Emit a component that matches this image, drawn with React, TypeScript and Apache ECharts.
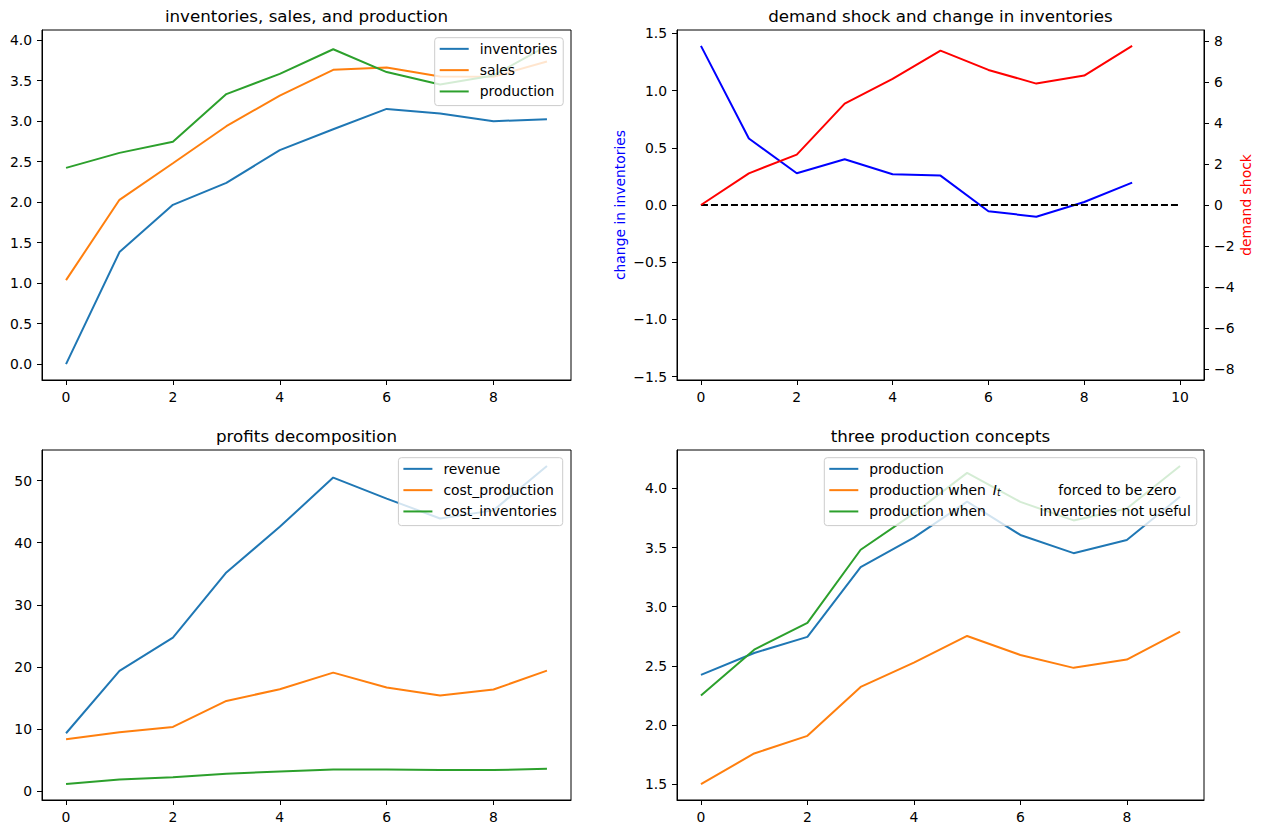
import React, { useEffect, useRef } from "react";
import * as echarts from "echarts";

// ---------------- data ----------------
const periods = [0, 1, 2, 3, 4, 5, 6, 7, 8, 9];

const inventories = [0, 1.383, 1.967, 2.239, 2.642, 2.901, 3.152, 3.095, 3.0, 3.025];
const sales = [1.037, 2.029, 2.481, 2.938, 3.317, 3.634, 3.663, 3.551, 3.55, 3.737];
const production = [2.424, 2.609, 2.745, 3.335, 3.584, 3.889, 3.607, 3.453, 3.565, 3.93];

const changeInInventories = [1.39, 0.581, 0.277, 0.4, 0.268, 0.257, -0.055, -0.102, 0.026, 0.196];
const demandShock = [0, 1.548, 2.46, 4.953, 6.159, 7.544, 6.599, 5.931, 6.322, 7.772];
const zeroLineX = [0, 10];
const zeroLineY = [0, 0];

const revenue = [9.32, 19.35, 24.7, 35.2, 42.55, 50.48, 47.1, 43.9, 45.2, 52.36];
const costProduction = [8.36, 9.49, 10.34, 14.52, 16.4, 19.08, 16.67, 15.38, 16.35, 19.4];
const costInventories = [1.13, 1.88, 2.25, 2.79, 3.16, 3.48, 3.48, 3.38, 3.38, 3.59];

const productionZeroInv = [1.5, 1.759, 1.908, 2.322, 2.528, 2.753, 2.592, 2.483, 2.553, 2.789];
const productionNoInv = [2.249, 2.637, 2.863, 3.482, 3.789, 4.132, 3.887, 3.73, 3.831, 4.191];

// tick values
const xTicks9 = [0, 2, 4, 6, 8];
const xTicks10 = [0, 2, 4, 6, 8, 10];
const yTicksInv = [0, 0.5, 1.0, 1.5, 2.0, 2.5, 3.0, 3.5, 4.0];
const yTicksChange = [-1.5, -1.0, -0.5, 0, 0.5, 1.0, 1.5];
const yTicksShock = [-8, -6, -4, -2, 0, 2, 4, 6, 8];
const yTicksProfit = [0, 10, 20, 30, 40, 50];
const yTicksProd = [1.5, 2.0, 2.5, 3.0, 3.5, 4.0];

// titles / names
const titles = [
  "inventories, sales, and production",
  "demand shock and change in inventories",
  "profits decomposition",
  "three production concepts",
];
const P4_PROD = "production (concepts)";
const P4_ZERO = "production when I_t forced to be zero";
const P4_NOINV = "production when inventories not useful";

// ---------------- helpers ----------------
const FONT = "'DejaVu Sans', sans-serif";
const C0 = "#1f77b4";
const C1 = "#ff7f0e";
const C2 = "#2ca02c";

function padRange(...arrs: number[][]): [number, number] {
  const all = ([] as number[]).concat(...arrs);
  const lo = Math.min(...all);
  const hi = Math.max(...all);
  const m = (hi - lo) * 0.05;
  return [lo - m, hi + m];
}
function symRange(arr: number[], f = 1.1): [number, number] {
  const m = Math.max(...arr.map((v) => Math.abs(v))) * f;
  return [-m, m];
}
const fmt = (d: number) => (v: number) => v.toFixed(d).replace("-", "\u2212");

const axisLineStyle = { color: "#000", width: 1 };
function makeAxis(kind: "x" | "y", gridIndex: number, range: [number, number], ticks: number[], dec: number, extra: any = {}) {
  return {
    type: "value",
    gridIndex,
    min: range[0],
    max: range[1],
    axisLine: { show: true, onZero: false, lineStyle: axisLineStyle },
    axisTick: { show: true, length: 5, lineStyle: axisLineStyle, customValues: ticks },
    splitLine: { show: false },
    axisLabel: {
      color: "#000",
      fontSize: 13.9,
      fontFamily: FONT,
      margin: 10,
      customValues: ticks,
      formatter: fmt(dec),
    },
    ...extra,
  };
}

function line(name: string, ys: number[], color: string, xi: number, yi: number, xs: number[] = periods, extra: any = {}) {
  return {
    type: "line",
    name,
    data: xs.map((x, i) => [x, ys[i]]),
    xAxisIndex: xi,
    yAxisIndex: yi,
    showSymbol: false,
    symbol: "none",
    color,
    lineStyle: { color, width: 2 },
    emphasis: { disabled: true },
    silent: true,
    ...extra,
  };
}

const legendCommon = {
  orient: "vertical",
  align: "left",
  padding: [4, 6, 7, 5],
  itemGap: 7,
  itemWidth: 29,
  itemHeight: 2,
  icon: "rect",
  backgroundColor: "rgba(255,255,255,0.8)",
  borderColor: "#cccccc",
  borderWidth: 1,
  borderRadius: 3,
  selectedMode: false,
  textStyle: {
    fontSize: 13.9,
    fontFamily: FONT,
    color: "#000",
    lineHeight: 14.3,
    padding: [0, 0, 0, 6],
    rich: {
      n: { fontSize: 13.9, fontFamily: FONT, color: "#000", lineHeight: 14.3 },
      it: { fontSize: 13.9, fontFamily: FONT, fontStyle: "italic", color: "#000", lineHeight: 14.3 },
      sub: { fontSize: 9.7, fontFamily: FONT, fontStyle: "italic", color: "#000", lineHeight: 9, verticalAlign: "bottom" },
      g1: { width: 7, lineHeight: 14.3 },
      g2: { width: 57.6, lineHeight: 14.3 },
      g3: { width: 53.7, lineHeight: 14.3 },
    },
  },
};

const titleStyle = { fontSize: 16.7, fontWeight: "normal", fontFamily: FONT, color: "#000", lineHeight: 20 };

// layout
const GL = { left: 42, width: 529 };
const GR = { left: 677, width: 527 };
const GT = { top: 30, height: 350 };
const GB = { top: 450, height: 350 };

function buildOption() {
  const xr9 = padRange(periods);
  const xr10 = padRange(zeroLineX);
  const grids = [
    { ...GL, ...GT },
    { ...GR, ...GT },
    { ...GL, ...GB },
    { ...GR, ...GB },
  ].map((g) => ({ ...g, show: true, borderColor: "#000", borderWidth: 1, backgroundColor: "transparent", containLabel: false }));

  return {
    animation: false,
    backgroundColor: "#fff",
    textStyle: { fontFamily: FONT },
    title: [
      { text: titles[0], left: GL.left + GL.width / 2, top: 5.9 },
      { text: titles[1], left: GR.left + GR.width / 2, top: 5.9 },
      { text: titles[2], left: GL.left + GL.width / 2, top: 425.9 },
      { text: titles[3], left: GR.left + GR.width / 2, top: 425.9 },
    ].map((t) => ({ ...t, textAlign: "center", padding: 0, textStyle: titleStyle })),
    grid: grids,
    xAxis: [
      makeAxis("x", 0, xr9, xTicks9, 0),
      makeAxis("x", 1, xr10, xTicks10, 0),
      makeAxis("x", 2, xr9, xTicks9, 0),
      makeAxis("x", 3, xr9, xTicks9, 0),
    ],
    yAxis: [
      makeAxis("y", 0, padRange(inventories, sales, production), yTicksInv, 1),
      makeAxis("y", 1, symRange(changeInInventories), yTicksChange, 1, {
        position: "left",
        name: "change in inventories",
        nameLocation: "middle",
        nameGap: 50,
        nameTextStyle: { color: "blue", fontSize: 13.9, fontFamily: FONT },
      }),
      makeAxis("y", 1, symRange(demandShock), yTicksShock, 0, {
        position: "right",
        name: "demand shock",
        nameLocation: "middle",
        nameGap: 35,
        nameTextStyle: { color: "red", fontSize: 13.9, fontFamily: FONT },
      }),
      makeAxis("y", 2, padRange(revenue, costProduction, costInventories), yTicksProfit, 0),
      makeAxis("y", 3, padRange(production, productionZeroInv, productionNoInv), yTicksProd, 1),
    ],
    legend: [
      { ...legendCommon, left: 434.7, top: 37.7, data: ["inventories", "sales", "production"] },
      { ...legendCommon, left: 398.4, top: 457.7, data: ["revenue", "cost_production", "cost_inventories"] },
      {
        ...legendCommon,
        left: 824.3,
        top: 457.7,
        data: [P4_PROD, P4_ZERO, P4_NOINV],
        formatter: (name: string) => {
          if (name === P4_PROD) return "{n|production}";
          if (name === P4_ZERO) return "{n|production when}{g1| }{it|I}{sub|t}{g2| }{n|forced to be zero}";
          return "{n|production when}{g3| }{n|inventories not useful}";
        },
      },
    ],
    series: [
      line("inventories", inventories, C0, 0, 0),
      line("sales", sales, C1, 0, 0),
      line("production", production, C2, 0, 0),

      line("change in inventories", changeInInventories, "#0000ff", 1, 1),
      line("zero", zeroLineY, "#000", 1, 1, zeroLineX, { lineStyle: { color: "#000", width: 2, type: [7, 3] } }),
      line("demand shock", demandShock, "#ff0000", 1, 2),

      line("revenue", revenue, C0, 2, 3),
      line("cost_production", costProduction, C1, 2, 3),
      line("cost_inventories", costInventories, C2, 2, 3),

      line(P4_PROD, production, C0, 3, 4),
      line(P4_ZERO, productionZeroInv, C1, 3, 4),
      line(P4_NOINV, productionNoInv, C2, 3, 4),
    ],
  };
}

export default function App() {
  const ref = useRef<HTMLDivElement>(null);
  useEffect(() => {
    if (!ref.current) return;
    const chart = echarts.init(ref.current, undefined, { renderer: "svg" });
    chart.setOption(buildOption() as any);
    return () => chart.dispose();
  }, []);
  return (
    <div
      ref={ref}
      style={{ position: "absolute", left: 0, top: 0, width: 1264, height: 834, background: "#fff" }}
    />
  );
}
